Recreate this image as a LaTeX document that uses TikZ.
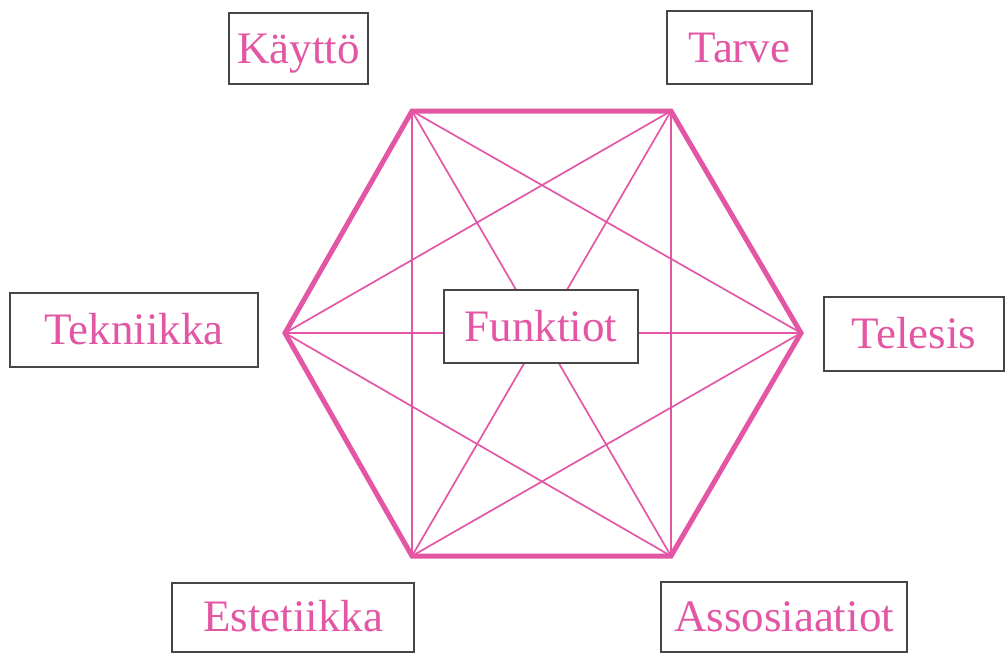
\documentclass[tikz,border=0pt]{standalone}
\usepackage{fontspec}
\setmainfont{Liberation Serif}
\definecolor{rosa}{RGB}{226,86,164}
\definecolor{rand}{RGB}{70,70,70}
\begin{document}
\begin{tikzpicture}[x=1pt,y=-1pt,
	labelbox/.style={ draw=rand, line width=2pt, fill=white, text=rosa, inner sep=0pt, text height=38pt, text depth=9pt, font=\fontsize{45}{50}\selectfont },
	edge/.style={ rosa, line width=5pt, line join=miter },
	diag/.style={ rosa, line width=1.7pt }
]
\useasboundingbox (0,0) rectangle (1006,653);

\coordinate (h1) at (412,111);
\coordinate (h2) at (671,111);
\coordinate (h3) at (801,333);
\coordinate (h4) at (671,556);
\coordinate (h5) at (412,556);
\coordinate (h6) at (285,333);

% all the thin lines
\foreach \i/\j in {1/3,1/4,1/5,2/4,2/5,2/6,3/5,3/6,4/6}
	\draw[diag] (h\i) -- (h\j);

\draw[edge] (h1) -- (h2) -- (h3) -- (h4) -- (h5) -- (h6) -- cycle;

\node at (541,326.5) (funk) [labelbox,minimum width=194pt,minimum height=73pt] {Funktiot};

\node at (298.5,48.5) (kay) [labelbox,minimum width=139pt,minimum height=71pt] {Käyttö};
\node at (739.5,47.5) (tar) [labelbox,minimum width=145pt,minimum height=73pt] {Tarve};
\node at (134,330) (tek) [labelbox,minimum width=248pt,minimum height=74pt] {Tekniikka};
\node at (914,334) (tel) [labelbox,minimum width=180pt,minimum height=74pt] {Telesis};
\node at (293,617) (est) [labelbox,minimum width=242pt,minimum height=69pt] {Estetiikka};
\node at (784,617) (ass) [labelbox,minimum width=246pt,minimum height=70pt] {Assosiaatiot};

\end{tikzpicture}
\end{document}
